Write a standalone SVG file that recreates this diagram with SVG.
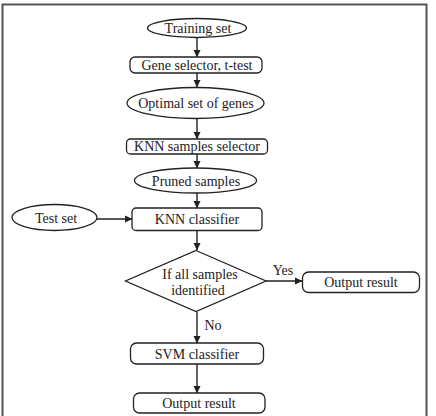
<svg xmlns="http://www.w3.org/2000/svg" width="436" height="416" viewBox="0 0 436 416">
<style>
.s{fill:#fff;stroke:#222;stroke-width:1.3}
.t{font-family:"Liberation Serif","Times New Roman",serif;font-size:14px;fill:#222;text-anchor:middle}
.c{stroke:#222;stroke-width:1.4;fill:none}
</style>
<defs>
<marker id="a" markerWidth="8" markerHeight="8" refX="7" refY="4" orient="auto" markerUnits="userSpaceOnUse">
<path d="M0,0.5 L7.5,4 L0,7.5 Z" fill="#222"/>
</marker>
</defs>
<rect x="0" y="0" width="436" height="416" fill="#fff"/>
<rect x="2.5" y="4.5" width="424" height="420" fill="none" stroke="#555" stroke-width="2"/>
<g id="connectors">
<line class="c" x1="197" y1="38" x2="197" y2="57" marker-end="url(#a)"/>
<line class="c" x1="197" y1="73" x2="197" y2="87" marker-end="url(#a)"/>
<line class="c" x1="197" y1="118" x2="197" y2="139" marker-end="url(#a)"/>
<line class="c" x1="197" y1="154" x2="197" y2="168" marker-end="url(#a)"/>
<line class="c" x1="197" y1="193" x2="197" y2="208" marker-end="url(#a)"/>
<line class="c" x1="97" y1="219" x2="132" y2="219" marker-end="url(#a)"/>
<line class="c" x1="197" y1="231" x2="197" y2="250" marker-end="url(#a)"/>
<line class="c" x1="266" y1="281" x2="302" y2="281" marker-end="url(#a)"/>
<line class="c" x1="197" y1="312" x2="197" y2="343" marker-end="url(#a)"/>
<line class="c" x1="197" y1="364" x2="197" y2="393" marker-end="url(#a)"/>
<text class="t" x="283" y="275">Yes</text>
<text class="t" x="213" y="330">No</text>
</g>
<g id="training">
<ellipse class="s" cx="197" cy="28" rx="49.5" ry="9.5"/>
<text class="t" x="198" y="33">Training set</text>
</g>
<g id="gene">
<rect class="s" x="130" y="57" width="132" height="16" rx="5"/>
<text class="t" x="197" y="70">Gene selector, t-test</text>
</g>
<g id="optimal">
<ellipse class="s" cx="195.5" cy="103" rx="68.5" ry="15.5"/>
<text class="t" x="196" y="108">Optimal set of genes</text>
</g>
<g id="knnsel">
<rect class="s" x="126.5" y="139" width="141" height="15" rx="4"/>
<text class="t" x="197" y="151">KNN samples selector</text>
</g>
<g id="pruned">
<ellipse class="s" cx="195.5" cy="180.5" rx="61" ry="12.5"/>
<text class="t" x="196" y="186">Pruned samples</text>
</g>
<g id="testset">
<ellipse class="s" cx="54.5" cy="217.5" rx="42.5" ry="13"/>
<text class="t" x="56" y="223">Test set</text>
</g>
<g id="knncls">
<rect class="s" x="132" y="208" width="130" height="22.5" rx="4"/>
<text class="t" x="197" y="224">KNN classifier</text>
</g>
<g id="decision">
<polygon class="s" points="196,250.5 266,281 196,311.5 125.5,281"/>
<text class="t" x="200" y="279">If all samples</text>
<text class="t" x="198" y="295">identified</text>
</g>
<g id="out1">
<rect class="s" x="302.5" y="272" width="117" height="20.5" rx="6"/>
<text class="t" x="361" y="287">Output result</text>
</g>
<g id="svm">
<rect class="s" x="130.5" y="343" width="133" height="21" rx="6"/>
<text class="t" x="197" y="359">SVM classifier</text>
</g>
<g id="out2">
<rect class="s" x="133.5" y="393" width="131.5" height="20" rx="6"/>
<text class="t" x="199" y="408">Output result</text>
</g>
</svg>
